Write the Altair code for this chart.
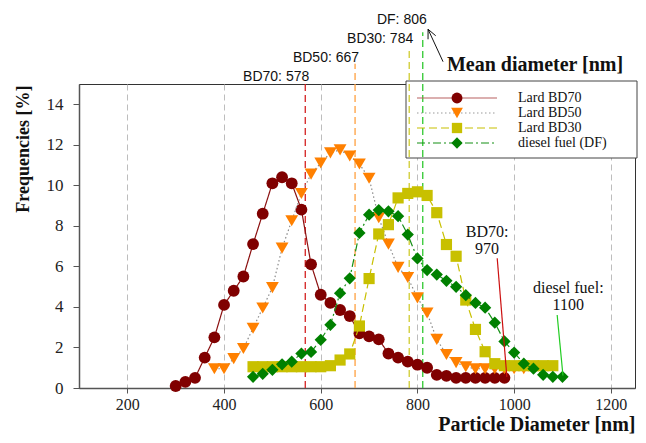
import altair as alt
import pandas as pd
import numpy as np

# ---------------- data ----------------
bd70_x = [300, 320, 340, 360, 380, 400, 420, 440, 460, 480, 500, 520, 540, 560, 580, 600, 620,
          640, 660, 680, 700, 720, 740, 760, 780, 800, 820, 840, 860, 880, 900, 920, 940, 960, 980]
bd70_y = [0.1, 0.3, 0.5, 1.5, 2.5, 4.1, 4.8, 5.5, 7.1, 8.6, 10.1, 10.4, 10.1, 8.8, 6.1, 4.6, 4.2,
          3.85, 3.55, 2.7, 2.55, 2.4, 1.7, 1.5, 1.3, 1.15, 1.0, 0.65, 0.6, 0.5, 0.5, 0.5, 0.5, 0.5, 0.5]

bd50_x = [380, 400, 420, 440, 460, 480, 500, 520, 540, 560, 580, 600, 620, 640, 660, 680, 700,
          720, 740, 760, 780, 800, 820, 840, 860, 880, 900, 920, 940, 960, 980, 1000, 1020]
bd50_y = [0.95, 0.95, 1.45, 1.95, 2.95, 3.95, 4.95, 6.9, 8.25, 9.6, 10.55, 11.1, 11.6, 11.75, 11.45, 11.05, 10.35,
          8.4, 7.1, 5.95, 5.45, 4.45, 3.7, 2.4, 1.65, 1.25, 1.05, 0.95, 0.95, 0.95, 0.95, 0.95, 0.95]

bd30_x = [460, 480, 500, 520, 540, 560, 580, 600, 620, 640, 660, 680, 700, 720, 740, 760,
          780, 800, 820, 840, 860, 880, 900, 920, 940, 960, 980, 1000, 1020, 1040, 1060, 1080]
bd30_y = [1.05, 1.05, 1.05, 1.05, 1.05, 1.05, 1.05, 1.05, 1.1, 1.38, 1.68, 3.06, 5.4, 7.6, 8.06, 9.38,
          9.6, 9.68, 9.5, 8.65, 7.08, 6.5, 4.34, 2.89, 1.79, 1.2, 1.1, 1.1, 1.1, 1.1, 1.1, 1.1]

df_x = [460, 480, 500, 520, 540, 560, 580, 600, 620, 640, 660, 680, 700, 720, 740, 760, 780,
        800, 820, 840, 860, 880, 900, 920, 940, 960, 980, 1000, 1020, 1040, 1060, 1080, 1100]
df_y = [0.55, 0.7, 0.9, 1.17, 1.3, 1.7, 1.78, 2.38, 3.12, 4.68, 5.41, 7.65, 8.55, 8.78, 8.72, 8.48, 7.57,
        6.39, 5.82, 5.6, 5.29, 4.99, 4.58, 4.2, 3.96, 3.22, 2.3, 1.75, 1.2, 0.95, 0.65, 0.55, 0.55]

series_names = ["Lard BD70", "Lard BD50", "Lard BD30", "diesel fuel (DF)"]
series_x = [bd70_x, bd50_x, bd30_x, df_x]
series_y = [bd70_y, bd50_y, bd30_y, df_y]

mean_labels = ["BD70: 578", "BD50: 667", "BD30: 784", "DF: 806"]
mean_pos = [568, 671, 783, 811]

x_ticks = [200, 400, 600, 800, 1000, 1200]
y_ticks = [0, 2, 4, 6, 8, 10, 12, 14]

end_notes = ["BD70:\n970", "diesel fuel:\n1100"]
end_values = [985, 1101]

# ---------------- layout / style ----------------
W, H = 556, 304
X_DOM = [100, 1250]
Y_DOM = [0, 15]
PX_X = W / (X_DOM[1] - X_DOM[0])
PX_Y = H / (Y_DOM[1] - Y_DOM[0])
SERIF = "Liberation Serif"
SANS = "Liberation Sans"

xs = alt.Scale(domain=X_DOM, nice=False, zero=False)
ys = alt.Scale(domain=Y_DOM, nice=False, zero=False)

X_AXIS = alt.Axis(values=x_ticks, format="d", title="Particle Diameter [nm]", grid=True, gridDash=[6, 4],
                  gridColor="#bdbdbd", gridWidth=1, domainColor="#555555", domainWidth=1.5,
                  tickColor="#555555", tickSize=5, labelFont=SERIF, labelFontSize=16,
                  labelColor="#222222", labelPadding=3, titleFont=SERIF, titleFontSize=20,
                  titleFontWeight="bold", titleColor="#111111", titleX=W, titleY=42,
                  titleAlign="right", titleBaseline="alphabetic")
Y_AXIS = alt.Axis(values=y_ticks, format="d", title="Frequencies [%]", grid=False, domainColor="#555555",
                  domainWidth=1.5, tickColor="#555555", tickSize=6, labelFont=SERIF,
                  labelFontSize=17, labelColor="#222222", labelPadding=10, titleFont=SERIF,
                  titleFontSize=18, titleFontWeight="bold", titleColor="#111111", titleX=-56,
                  titleY=1, titleAlign="right", titleBaseline="middle", titleAngle=270)


def X(f):
    return alt.X(f, type="quantitative", scale=xs, axis=X_AXIS)


def Y(f):
    return alt.Y(f, type="quantitative", scale=ys, axis=Y_AXIS)


styles = [
    dict(color="#800000", line="#8b1010", legline="#b86060", dash=[1, 0], shape="circle", size=140),
    dict(color="#ff8000", line="#8a8a8a", legline="#9a9a9a", dash=[1.5, 2.5], shape="triangle-down", size=165),
    dict(color="#c8c000", line="#c8c000", legline="#c8c000", dash=[8, 4], shape="square", size=125),
    dict(color="#008000", line="#159015", legline="#159015", dash=[8, 3, 2, 3], shape="diamond", size=150),
]
mean_colors = ["#d42020", "#ffa040", "#d0cc30", "#30c830"]
mean_tops = [15.0, 16.0, 16.75, 17.55]
mean_label_y = [15.33, 16.3, 17.2, 18.15]

layers = []

# legend box (drawn over gridlines)
one = pd.DataFrame({"k": [0]})
layers.append(alt.Chart(one).mark_rect(fill="white", stroke="#444444", strokeWidth=1).encode(
    x=alt.value(327), x2=alt.value(558), y=alt.value(-3), y2=alt.value(74)))

# mean diameter lines + labels
for lab, pos, col, top, ly in zip(mean_labels, mean_pos, mean_colors, mean_tops, mean_label_y):
    d = pd.DataFrame({"x": [pos], "y0": [0.0], "y1": [top], "ly": [ly], "t": [lab]})
    layers.append(alt.Chart(d).mark_rule(color=col, strokeDash=[7, 4], strokeWidth=1.3).encode(
        x=X("x"), y=Y("y0"), y2=alt.Y2("y1")))
    layers.append(alt.Chart(d).mark_text(align="right", baseline="middle", dx=4, font=SANS,
                                         fontSize=14, color="#111111").encode(
        x=X("x"), y=Y("ly"), text="t:N"))

# series lines and markers
for name, xv, yv, st in zip(series_names, series_x, series_y, styles):
    d = pd.DataFrame({"x": xv, "y": yv})
    layers.append(alt.Chart(d).mark_line(color=st["line"], strokeDash=st["dash"], strokeWidth=1.2).encode(
        x=X("x"), y=Y("y")))
    layers.append(alt.Chart(d).mark_point(shape=st["shape"], filled=True, opacity=1,
                                          size=st["size"], color=st["color"]).encode(
        x=X("x"), y=Y("y")))

# end-of-distribution notes with leader lines
note_df = pd.DataFrame({"t": end_notes, "x": [944, 1112], "y": [8.1, 5.35]})
layers.append(alt.Chart(note_df).mark_text(align="center", baseline="top", lineBreak="\n",
                                           font=SERIF, fontSize=16, lineHeight=17,
                                           color="#111111").encode(x=X("x"), y=Y("y"), text="t:N"))
lead_df = pd.DataFrame({"x": [965, 1089], "y": [6.4, 3.6], "x2": end_values, "y2": [0.55, 0.62]})
for i, col in enumerate(["#cc1010", "#20cc20"]):
    layers.append(alt.Chart(lead_df.iloc[[i]]).mark_rule(color=col, strokeWidth=1.2).encode(
        x=X("x"), y=Y("y"), x2=alt.X2("x2"), y2=alt.Y2("y2")))

# "Mean diameter" label with arrow pointing to the DF label
tip = (822.0, 17.7)
tail = (853.0, 16.1)
vx = (tail[0] - tip[0]) * PX_X
vy = -(tail[1] - tip[1]) * PX_Y
ln = np.hypot(vx, vy)
ux, uy = vx / ln, vy / ln
arms = []
for a in (np.radians(25), -np.radians(25)):
    rx = ux * np.cos(a) - uy * np.sin(a)
    ry = ux * np.sin(a) + uy * np.cos(a)
    arms.append((tip[0] + 10 * rx / PX_X, tip[1] - 10 * ry / PX_Y))
arrow_df = pd.DataFrame({
    "x": [tail[0], tip[0], tip[0]],
    "y": [tail[1], tip[1], tip[1]],
    "x2": [tip[0], arms[0][0], arms[1][0]],
    "y2": [tip[1], arms[0][1], arms[1][1]],
})
layers.append(alt.Chart(arrow_df).mark_rule(color="#111111", strokeWidth=1).encode(
    x=X("x"), y=Y("y"), x2=alt.X2("x2"), y2=alt.Y2("y2")))
md_df = pd.DataFrame({"x": [861], "y": [15.92], "t": ["Mean diameter [nm]"]})
layers.append(alt.Chart(md_df).mark_text(align="left", baseline="middle", font=SERIF, fontSize=20,
                                         fontWeight="bold", color="#111111").encode(
    x=X("x"), y=Y("y"), text="t:N"))

# legend contents
for i, (name, st) in enumerate(zip(series_names, styles)):
    ry = 14 + 15 * i
    layers.append(alt.Chart(one).mark_rule(color=st["legline"], strokeDash=st["dash"], strokeWidth=1.2).encode(
        x=alt.value(338), x2=alt.value(418), y=alt.value(ry)))
    layers.append(alt.Chart(one).mark_point(shape=st["shape"], filled=True, opacity=1,
                                            size=st["size"] * 0.85, color=st["color"]).encode(
        x=alt.value(378), y=alt.value(ry)))
    layers.append(alt.Chart(one).mark_text(align="left", baseline="middle", font=SERIF, fontSize=14,
                                           color="#111111").encode(
        x=alt.value(439), y=alt.value(ry), text=alt.value(name)))

chart = alt.layer(*layers).properties(
    width=W, height=H,
    autosize=alt.AutoSizeParams(type="none"),
    padding={"left": 71, "top": 76, "right": 3, "bottom": 47},
).configure_view(stroke="#333333", strokeWidth=1)

chart.save("out.html", embed_options={"renderer": "svg", "actions": False})
